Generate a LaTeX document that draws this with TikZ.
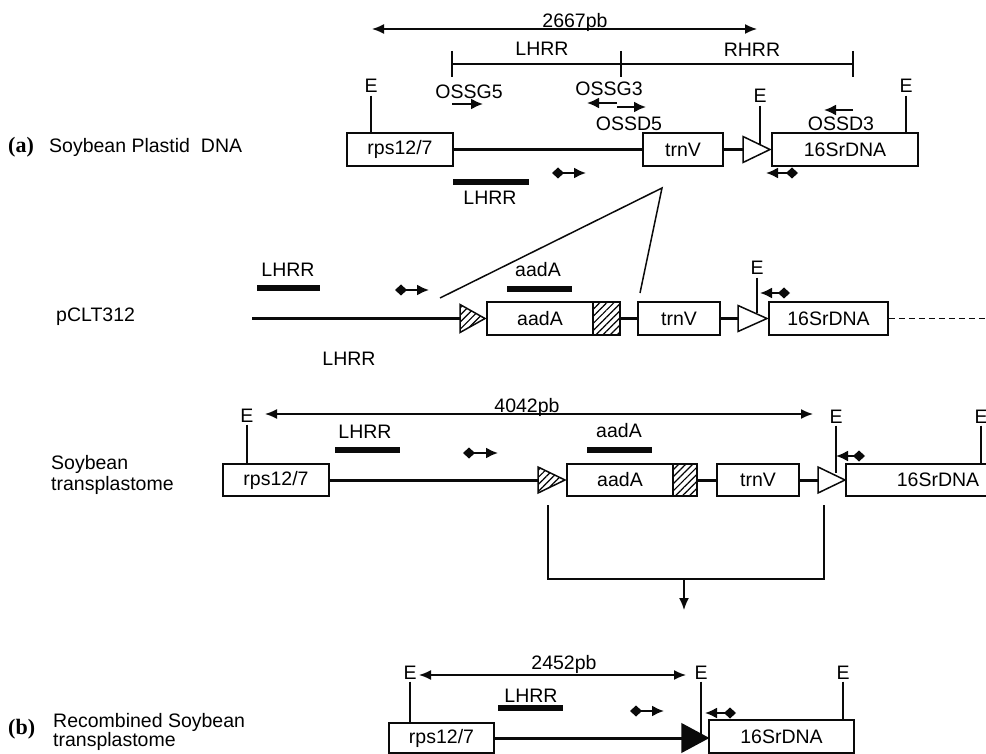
\documentclass[tikz,border=0pt]{standalone}
\usepackage{fontspec}
\setmainfont{Liberation Sans}
\newfontfamily\tagfont{Liberation Serif}
\usetikzlibrary{arrows.meta,patterns.meta,calc}
\definecolor{figink}{RGB}{10,10,10}

\begin{document}
\begin{tikzpicture}[x=1pt, y=-1pt,
  font=\fontsize{19.5}{22}\selectfont,
  gene/.style={draw=figink, line width=1.9pt, minimum height=33pt, inner sep=0pt},
  backbone/.style={draw=figink, line width=3pt},
  probe/.style={draw=figink, line width=5.5pt},
  thinline/.style={draw=figink, line width=1.5pt},
  dim/.style={thinline, {Latex[length=12pt,width=10pt]}-{Latex[length=12pt,width=10pt]}},
  primer/.style={draw=figink, line width=2pt, -{Latex[length=12pt,width=11pt]}},
  marker/.style={draw=figink, line width=2pt,
    {Diamond[length=12pt,width=11pt]}-{Latex[length=12pt,width=11pt]}},
  lbl/.style={inner sep=1pt},
  emark/.style={inner sep=2.5pt},
  panel/.style={inner sep=1pt, font=\tagfont\bfseries\fontsize{22}{24}\selectfont},
  hatch/.style={draw=figink, line width=1.5pt,
    pattern={Lines[angle=45,distance=5pt,line width=1.2pt]}},
  pointer/.style={draw=figink, line width=1.5pt, fill=white}]
\useasboundingbox (0,0) rectangle (986,754);
\clip (0,0) rectangle (986,754);

% ---- (a) plastid DNA
\node[panel, anchor=base west] (a-tag) at (7,153) {(a)};
\node[lbl, anchor=base west] (a-name) at (48,153) {Soybean Plastid\ \ DNA};
\coordinate (a-d1) at (372,29);
\coordinate (a-d2) at (757,29);
\draw[dim] (a-d1) -- (a-d2);
\node[lbl, anchor=base] (a-len) at (575,28) {2667pb};
% homology arms
\coordinate (a-h1) at (452,64);
\coordinate (a-h2) at (621,64);
\coordinate (a-h3) at (853,64);
\draw[thinline] (a-h1) -- (a-h3);
\foreach \c in {a-h1,a-h2,a-h3}
  \draw[thinline] ($(\c)+(0,-13)$) -- ($(\c)+(0,13)$);
\node[lbl, anchor=base] (a-lhrr) at (542,56) {LHRR};
\node[lbl, anchor=base] (a-rhrr) at (752,57) {RHRR};

\node[gene, minimum width=106pt] (a-rps) at (400,149.5) {rps12/7};
\node[gene, minimum width=80pt] (a-trnv) at (683,149.5) {trnV};
\node[gene, minimum width=146pt] (a-16s) at (845,149.5) {16SrDNA};
\coordinate (a-lox) at (743,149.5);
\draw[pointer] (a-lox) ++(0,-13) -- (770,149.5) -- (743,162.5) -- cycle;
\draw[backbone] (a-rps.east) -- (a-trnv.west);
\draw[backbone] (a-trnv.east) -- (a-lox);

\node[emark, anchor=base] (a-e1) at (371,93) {E};
\draw[thinline] (a-e1.south) -- (a-e1.south |- a-rps.north);
\node[emark, anchor=base] (a-e2) at (760,103) {E};
\draw[thinline] (a-e2.south) -- (760,145);
\node[emark, anchor=base] (a-e3) at (906,93) {E};
\draw[thinline] (a-e3.south) -- (a-e3.south |- a-16s.north);

% primers
\node[lbl, anchor=base] (a-g5) at (469,99) {OSSG5};
\draw[primer] (452,104) -- (483,104);
\node[lbl, anchor=base] (a-g3) at (609,96) {OSSG3};
\draw[primer] (617,103) -- (587,103);
\draw[primer] (617,107) -- (646,107);
\node[lbl, anchor=base] (a-d5) at (629,131) {OSSD5};
\node[lbl, anchor=base] (a-d3) at (841,131) {OSSD3};
\draw[primer] (853,110) -- (824,110);
\draw[marker] (552,173) -- (586,173);
\draw[marker] (798,173) -- (766,173);
\draw[probe] (453,182) -- (529,182);
\node[lbl, anchor=base] (a-probe) at (490,205) {LHRR};

% insertion lines
\coordinate (v-top) at (662,188);
\draw[thinline] (440,298) -- (v-top) -- (640,293);

% ---- pCLT312
\node[lbl, anchor=base west] (b-name) at (55,321) {pCLT312};
\node[lbl, anchor=base] (b-lhrr) at (288,277) {LHRR};
\draw[probe] (257,288) -- (320,288);
\draw[marker] (395,290) -- (429,290);
\node[lbl, anchor=base] (b-arm) at (349,365) {LHRR};
\coordinate (b-start) at (252,318.5);
\coordinate (b-lox1) at (460,318.5);
\draw[backbone] (b-start) -- (b-lox1);
\draw[hatch] (b-lox1) ++(0,-14) -- (485,318.5) -- (460,332.5) -- cycle;
\node[gene, minimum width=106pt] (b-aada) at (540,318.5) {aadA};
\node[gene, hatch, minimum width=27pt] (b-term) at (606.5,318.5) {};
\node[lbl, anchor=base] (b-aadlbl) at (538,277) {aadA};
\draw[probe] (507,289) -- (572,289);
\node[gene, minimum width=82pt] (b-trnv) at (679,318.5) {trnV};
\draw[backbone] (b-term.east) -- (b-trnv.west);
\coordinate (b-lox2) at (738,318.5);
\draw[backbone] (b-trnv.east) -- (b-lox2);
\draw[pointer] (b-lox2) ++(0,-13) -- (767,318.5) -- (738,331.5) -- cycle;
\node[gene, minimum width=119pt] (b-16s) at (828.5,318.5) {16SrDNA};
\coordinate (b-end) at (986,318.5);
\draw[thinline, dashed, dash pattern=on 6pt off 4pt] (b-16s.east) -- (b-end);
\node[emark, anchor=base] (b-e1) at (757,275) {E};
\draw[thinline] (b-e1.south) -- (757,313);
\draw[marker] (790,293) -- (760,293);

% ---- soybean transplastome
\node[lbl, anchor=base west] (c-name) at (50,469) {Soybean};
\node[lbl, anchor=base west] (c-name2) at (50,490) {transplastome};
\coordinate (c-d1) at (265,414);
\coordinate (c-d2) at (813,414);
\draw[dim] (c-d1) -- (c-d2);
\node[lbl, anchor=base] (c-len) at (527,412) {4042pb};
\node[gene, minimum width=106pt, minimum height=32pt] (c-rps) at (276,480) {rps12/7};
\coordinate (c-lox1) at (538,480);
\draw[backbone] (c-rps.east) -- (c-lox1);
\draw[hatch] (c-lox1) ++(0,-13) -- (565,480) -- (538,493) -- cycle;
\node[gene, minimum width=106pt, minimum height=32pt] (c-aada) at (620,480) {aadA};
\node[gene, hatch, minimum width=24pt, minimum height=32pt] (c-term) at (685,480) {};
\node[gene, minimum width=82pt, minimum height=32pt] (c-trnv) at (758,480) {trnV};
\draw[backbone] (c-term.east) -- (c-trnv.west);
\coordinate (c-lox2) at (818,480);
\draw[backbone] (c-trnv.east) -- (c-lox2);
\draw[pointer] (c-lox2) ++(0,-13) -- (845,480) -- (818,493) -- cycle;
\node[gene, minimum width=184pt, minimum height=32pt] (c-16s) at (938,480) {16SrDNA};

\node[emark, anchor=base] (c-e1) at (247,422) {E};
\draw[thinline] (c-e1.south) -- (c-e1.south |- c-rps.north);
\node[emark, anchor=base] (c-e2) at (836,423) {E};
\draw[thinline] (c-e2.south) -- (836,473);
\node[emark, anchor=base] (c-e3) at (981,423) {E};
\draw[thinline] (c-e3.south) -- (c-e3.south |- c-16s.north);

\node[lbl, anchor=base] (c-lhrr) at (365,438) {LHRR};
\draw[probe] (335,450) -- (400,450);
\draw[marker] (463,453) -- (498,453);
\node[lbl, anchor=base] (c-aadlbl) at (619,437) {aadA};
\draw[probe] (587,450) -- (652,450);
\draw[marker] (865,456) -- (836,456);

% excision bracket
\coordinate (x-l) at (548,505);
\coordinate (x-r) at (824,505);
\coordinate (x-mid) at (684,579);
\coordinate (x-tip) at (684,610);
\draw[thinline] (x-l) -- (548,579) -- (824,579) -- (x-r);
\draw[thinline, -{Latex[length=12pt,width=10pt]}] (x-mid) -- (x-tip);

% ---- (b) recombined transplastome
\node[panel, anchor=base west] (d-tag) at (7,734) {(b)};
\node[lbl, anchor=base west] (d-name) at (52,727) {Recombined Soybean};
\node[lbl, anchor=base west] (d-name2) at (52,746) {transplastome};
\coordinate (d-d1) at (419,675);
\coordinate (d-d2) at (686,675);
\draw[dim] (d-d1) -- (d-d2);
\node[lbl, anchor=base] (d-len) at (564,669) {2452pb};
\node[gene, minimum width=105pt, minimum height=30pt] (d-rps) at (441.5,738) {rps12/7};
\coordinate (d-lox) at (682,738);
\draw[backbone] (d-rps.east) -- (d-lox);
\draw[draw=figink, line width=1.3pt, fill=figink] (d-lox) ++(0,-14) -- (708,738) -- (682,752) -- cycle;
\node[gene, minimum width=145pt] (d-16s) at (781.5,736.5) {16SrDNA};

\node[emark, anchor=base] (d-e1) at (410,679) {E};
\draw[thinline] (d-e1.south) -- (d-e1.south |- d-rps.north);
\node[emark, anchor=base] (d-e2) at (701,679) {E};
\draw[thinline] (d-e2.south) -- (701,734);
\node[emark, anchor=base] (d-e3) at (843,679) {E};
\draw[thinline] (d-e3.south) -- (d-e3.south |- d-16s.north);

\node[lbl, anchor=base] (d-lhrr) at (531,702) {LHRR};
\draw[probe] (498,708) -- (563,708);
\draw[marker] (630,711) -- (664,711);
\draw[marker] (736,713) -- (705,713);
\end{tikzpicture}
\end{document}
